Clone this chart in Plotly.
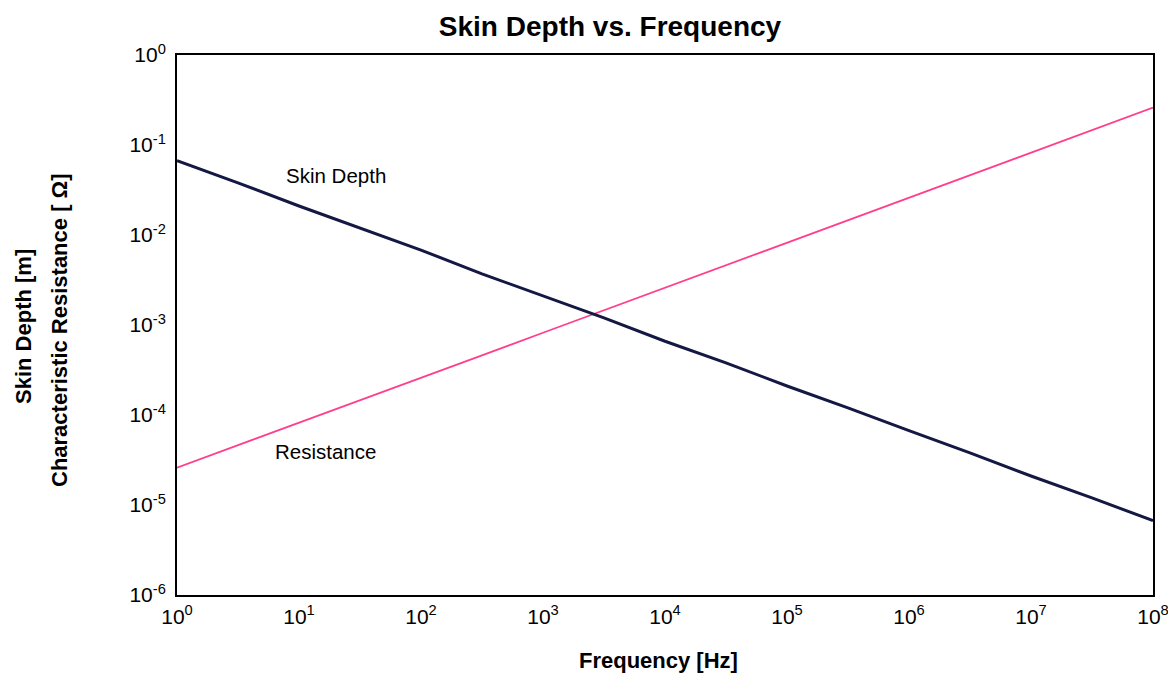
import plotly.graph_objects as go

# Data (half-decade points)
frequency_hz = [1, 3.16, 10, 31.6, 100, 316, 1e3, 3.16e3, 1e4, 3.16e4,
                1e5, 3.16e5, 1e6, 3.16e6, 1e7, 3.16e7, 1e8]
skin_depth_m = [0.067, 0.038, 0.021, 0.012, 0.0068, 0.0037, 0.0021, 0.0012,
                0.00066, 0.00038, 0.00021, 0.00012, 0.000067, 0.000038,
                0.000021, 0.000012, 0.0000067]
resistance_ohm = [0.000026, 0.000046, 0.000082, 0.000146, 0.00026, 0.00046,
                  0.00082, 0.00146, 0.0026, 0.0046, 0.0082, 0.0146, 0.026,
                  0.046, 0.082, 0.146, 0.26]

x_exps = list(range(0, 9))
y_exps = list(range(-6, 1))
x_ticktext = [f"10<sup>{e}</sup>" for e in x_exps]
y_ticktext = [f"10<sup>{e}</sup>" for e in y_exps]

FONT = "Liberation Sans, Arial, sans-serif"
L, R, T, B = 177, 1153, 55, 595
PW, PH = R - L, B - T

fig = go.Figure()
fig.add_trace(go.Scatter(x=frequency_hz, y=resistance_ohm, mode="lines",
                         line=dict(color="#ff3f8c", width=1.8),
                         name="Resistance", showlegend=False))
fig.add_trace(go.Scatter(x=frequency_hz, y=skin_depth_m, mode="lines",
                         line=dict(color="#141842", width=3),
                         name="Skin Depth", showlegend=False))

fig.update_layout(
    template="none",
    width=1168, height=675,
    margin=dict(l=L, r=1168 - R, t=T, b=675 - B, autoexpand=False),
    paper_bgcolor="white", plot_bgcolor="white",
    font=dict(family=FONT, color="black", size=21),
    title=dict(text="<b>Skin Depth vs. Frequency</b>", x=(610 - L) / PW,
               xref="paper", xanchor="center", y=1 - 26 / 675,
               yanchor="middle",
               font=dict(size=28, family=FONT, color="black")),
    xaxis=dict(type="log", range=[0, 8], tickvals=[10 ** e for e in x_exps],
               ticktext=x_ticktext, showgrid=False, zeroline=False,
               showline=True, mirror=True, linecolor="black", linewidth=2,
               ticks="", ticklabelstandoff=2, ticklabeloverflow="allow",
               automargin=False, tickfont=dict(size=21)),
    yaxis=dict(type="log", range=[-6, 0], tickvals=[10.0 ** e for e in y_exps],
               ticktext=y_ticktext, showgrid=False, zeroline=False,
               showline=True, mirror=True, linecolor="black", linewidth=2,
               ticks="", ticklabelstandoff=5, ticklabeloverflow="allow",
               automargin=False, tickfont=dict(size=21)),
)

fig.add_annotation(text="Skin Depth", x=1.30, y=-1.34, xref="x", yref="y",
                   showarrow=False, font=dict(size=20.5, family=FONT))
fig.add_annotation(text="Resistance", x=1.22, y=-4.41, xref="x", yref="y",
                   showarrow=False, font=dict(size=20.5, family=FONT))

fig.add_annotation(text="<b>Frequency [Hz]</b>", x=(658 - L) / PW,
                   y=-(660 - B) / PH, xref="paper", yref="paper",
                   showarrow=False, xanchor="center", yanchor="middle",
                   font=dict(size=22, family=FONT))
fig.add_annotation(text="<b>Skin Depth [m]</b>", textangle=-90,
                   x=-(L - 23) / PW, y=(B - 327) / PH, xref="paper",
                   yref="paper", showarrow=False, xanchor="center",
                   yanchor="middle", font=dict(size=22, family=FONT))
fig.add_annotation(text="<b>Characteristic Resistance [ Ω]</b>", textangle=-90,
                   x=-(L - 59) / PW, y=(B - 330) / PH, xref="paper",
                   yref="paper", showarrow=False, xanchor="center",
                   yanchor="middle", font=dict(size=22, family=FONT))

fig.write_html("out.html")
